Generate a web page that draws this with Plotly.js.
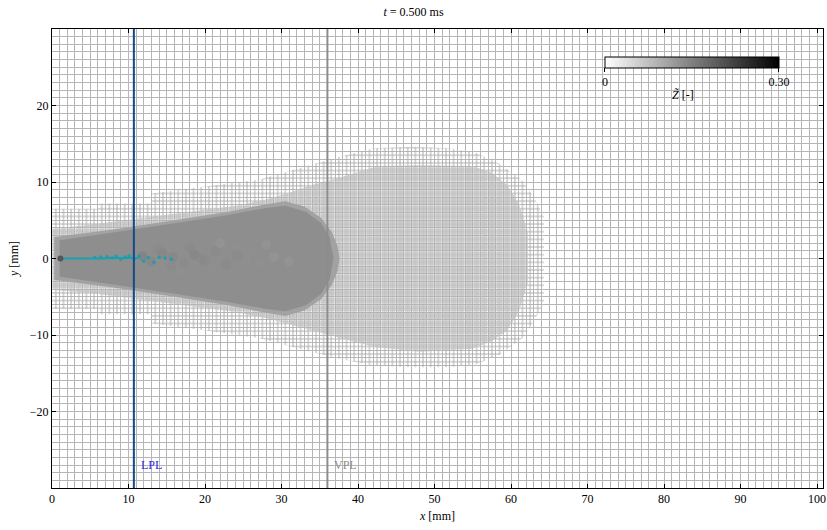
<!DOCTYPE html>
<html>
<head>
<meta charset="utf-8">
<script src="https://cdn.plot.ly/plotly-3.0.1.min.js"></script>
<style>html,body{margin:0;padding:0;background:#fff;}#chart{width:827px;height:530px;}</style>
</head>
<body>
<div id="chart"></div>
<script>
// ---- mesh refinement regions (mm) ----
const halo05UpperX = [0, 6, 6, 13, 13, 20, 27, 33, 38, 42, 47, 52, 55.5, 58.5, 61.5, 63, 64.3, 64.3];
const halo05UpperY = [6.5, 6.5, 7.2, 7.2, 8.5, 9.4, 10.3, 12.0, 13.4, 14.4, 14.6, 14.4, 13.8, 12.4, 10.2, 8.0, 5.5, 0];
const halo05LowerX = [64.3, 64.3, 63, 61.5, 58.5, 55.5, 52, 47, 42, 38, 33, 27, 20, 13, 13, 6, 6, 0];
const halo05LowerY = [0, -5.8, -8.2, -10.4, -12.6, -13.8, -14.2, -14.2, -14.0, -13.2, -12.0, -10.4, -9.4, -8.5, -7.3, -7.3, -6.6, -6.6];

const fine025UpperX = [0, 5, 11, 18, 24, 28, 31, 34, 37, 40, 42.5, 48, 55, 57.5, 59.5, 61, 62.2, 62.2];
const fine025UpperY = [3.9, 4.4, 5.2, 6.1, 6.9, 7.7, 8.6, 9.6, 10.4, 11.3, 12.1, 12.2, 12.1, 11.2, 9.6, 7.2, 3.5, 0];
const fine025LowerX = [62.2, 62.2, 61, 59.5, 57.5, 55, 48, 42.5, 40, 37, 34, 31, 28, 24, 18, 11, 5, 0];
const fine025LowerY = [0, -3.2, -7.0, -9.4, -10.8, -11.8, -12.2, -11.6, -11.0, -10.2, -9.4, -8.6, -7.8, -7.0, -6.2, -5.3, -4.5, -4.1];

const bandUpperX = [0.3, 0.3, 8, 16, 23, 28, 30.5, 33, 35.2, 36.6, 37.3, 37.6];
const bandUpperY = [0, 2.8, 3.8, 5.0, 6.1, 7.1, 7.5, 6.8, 5.3, 3.4, 1.7, 0];
const bandLowerX = [37.6, 37.3, 36.6, 35.2, 33, 30.5, 28, 23, 16, 8, 0.3, 0.3];
const bandLowerY = [0, -1.7, -3.4, -5.3, -6.8, -7.5, -7.1, -6.1, -5.0, -3.8, -2.8, 0];

const coreUpperX = [1, 1, 8, 16, 23, 28, 30.5, 33.2, 35.2, 36.3, 36.8];
const coreUpperY = [0, 2.4, 3.4, 4.6, 5.7, 6.6, 6.9, 6.1, 4.6, 2.7, 0];
const coreLowerX = [36.8, 36.3, 35.2, 33.2, 30.5, 28, 23, 16, 8, 1, 1];
const coreLowerY = [0, -2.7, -4.6, -6.1, -6.9, -6.6, -5.7, -4.6, -3.4, -2.4, 0];

// ---- liquid spray parcels ----
const sprayLineX = [1.2, 3.0, 5.0, 6.5, 7.5, 8.5, 9.5, 10.5, 11.2];
const sprayLineY = [0, -0.02, -0.03, 0.0, 0.05, 0.08, 0.08, 0.1, 0.08];
const dropX = [5.6, 6.4, 7.2, 7.9, 8.4, 9.0, 9.6, 10.1, 10.8, 11.4, 12.0, 12.6, 13.3, 14.0, 14.8, 15.6];
const dropY = [0.12, 0.18, 0.22, 0.05, 0.28, -0.1, 0.2, 0.32, -0.05, 0.25, -0.35, 0.1, -0.5, 0.15, 0.05, -0.1];
const nozzleX = [1.1];
const nozzleY = [0];

// ---- mixture fraction cloud ----
const zX = [11.8, 13.0, 14.4, 15.8, 17.2, 18.6, 20.0, 21.4, 22.8, 24.2, 25.6, 13.8, 18.0, 21.0, 24.0, 27.0, 15.6, 19.6, 26.2, 29.0, 28.0, 31.0, 22.0, 16.8];
const zY = [0.3, -0.4, 0.7, 0.2, -0.6, 0.5, -0.3, 0.9, -0.8, 0.4, -0.2, 1.2, 1.4, -1.3, 1.6, -0.6, -1.0, 0.0, 1.0, 0.2, 1.8, -0.4, 2.0, -1.6];
const zVal = [0.16, 0.15, 0.15, 0.15, 0.14, 0.15, 0.14, 0.14, 0.14, 0.14, 0.13, 0.14, 0.14, 0.13, 0.13, 0.13, 0.14, 0.14, 0.13, 0.12, 0.12, 0.12, 0.12, 0.13];

// ---- measurement planes ----
const planeX = [10.7, 36.0];
const planeNames = ['LPL', 'VPL'];
const planeLineColors = ['#124a86', '#8c8c8c'];
const planeTextColors = ['#2a2ae6', '#8c8c8c'];

const xTicks = [0, 10, 20, 30, 40, 50, 60, 70, 80, 90, 100];
const yTicks = [-20, -10, 0, 10, 20];

const PX_PER_MM = 7.65;
const FONT = '"Liberation Serif", "DejaVu Serif", serif';

function poly(ux, uy, lx, ly) { return {x: ux.concat(lx), y: uy.concat(ly)}; }

const h05 = poly(halo05UpperX, halo05UpperY, halo05LowerX, halo05LowerY);
const f025 = poly(fine025UpperX, fine025UpperY, fine025LowerX, fine025LowerY);
const band = poly(bandUpperX, bandUpperY, bandLowerX, bandLowerY);
const core = poly(coreUpperX, coreUpperY, coreLowerX, coreLowerY);

const traces = [
  {x: h05.x, y: h05.y, type: 'scatter', mode: 'none', fill: 'toself', hoverinfo: 'skip',
   fillpattern: {shape: '+', size: PX_PER_MM, solidity: 0.245, fgcolor: '#adadad'}},
  {x: f025.x, y: f025.y, type: 'scatter', mode: 'none', fill: 'toself', hoverinfo: 'skip',
   fillpattern: {shape: '+', size: PX_PER_MM / 2, solidity: 0.454, fgcolor: '#b8b8b8'}},
  {x: band.x, y: band.y, type: 'scatter', mode: 'none', fill: 'toself', fillcolor: '#a2a2a2', hoverinfo: 'skip'},
  {x: core.x, y: core.y, type: 'scatter', mode: 'none', fill: 'toself', fillcolor: '#8e8e8e', hoverinfo: 'skip'},
  {x: zX, y: zY, type: 'scatter', mode: 'markers', hoverinfo: 'skip',
   marker: {size: 10, color: zVal, cmin: 0, cmax: 0.3, opacity: 0.45,
     colorscale: [[0, '#ffffff'], [1, '#000000']], line: {width: 0},
     showscale: true,
     colorbar: {orientation: 'h', xref: 'paper', yref: 'paper', x: 0.83, xanchor: 'center', y: 0.94, yanchor: 'top',
       lenmode: 'pixels', len: 174, thickness: 11, xpad: 0, ypad: 0,
       outlinewidth: 1, outlinecolor: '#000',
       tickvals: [0, 0.3], ticktext: ['0', '0.30'], ticks: 'outside', ticklen: 4, tickcolor: '#000',
       tickfont: {family: FONT, size: 12, color: '#000'},
       title: {text: ''}}}},
  {x: sprayLineX, y: sprayLineY, type: 'scatter', mode: 'lines', hoverinfo: 'skip',
   line: {color: '#1c9fb0', width: 2}},
  {x: dropX, y: dropY, type: 'scatter', mode: 'markers', hoverinfo: 'skip',
   marker: {size: 3.5, color: '#1c9fb0'}},
  {x: nozzleX, y: nozzleY, type: 'scatter', mode: 'markers', hoverinfo: 'skip',
   marker: {size: 6, color: '#555555'}}
];

const shapes = planeX.map((px, i) => ({
  type: 'line', xref: 'x', yref: 'paper', x0: px, x1: px, y0: 0, y1: 1,
  line: {color: planeLineColors[i], width: 2}
}));
const annotations = planeX.map((px, i) => ({
  x: px, y: -27.0, xref: 'x', yref: 'y', text: planeNames[i], showarrow: false,
  xanchor: 'left', xshift: 5, font: {family: FONT, size: 12, color: planeTextColors[i]}
}));
annotations.push({
  x: 0.818, y: 0.856, xref: 'paper', yref: 'paper', text: '<i>Z̃</i> [-]', showarrow: false,
  xanchor: 'center', yanchor: 'middle', font: {family: FONT, size: 12, color: '#000'}
});

const plotW = 827 - 52 - 4;
const layout = {
  width: 827, height: 530,
  margin: {l: 52, r: 4, t: 29, b: 42},
  paper_bgcolor: '#fff', plot_bgcolor: '#fff',
  showlegend: false,
  font: {family: FONT, size: 12, color: '#000'},
  title: {text: '<i>t</i> = 0.500 ms', x: 0.5, xanchor: 'center', y: 0.977, yanchor: 'middle', yref: 'container',
    font: {family: FONT, size: 12, color: '#000'}},
  xaxis: {range: [0, plotW / PX_PER_MM], tickvals: xTicks, ticks: 'inside', ticklen: 4, tickcolor: '#000',
    showline: true, linecolor: '#000', linewidth: 1, mirror: 'ticks', zeroline: false,
    showgrid: true, gridcolor: '#b6b6b6', gridwidth: 1,
    minor: {dtick: 1, tick0: 0, showgrid: true, gridcolor: '#b6b6b6', gridwidth: 1},
    title: {text: '<i>x</i> [mm]', standoff: 6, font: {family: FONT, size: 12}},
    tickfont: {family: FONT, size: 12}, fixedrange: true},
  yaxis: {range: [-30, 30], tickvals: yTicks, ticks: 'inside', ticklen: 4, tickcolor: '#000',
    showline: true, linecolor: '#000', linewidth: 1, mirror: 'ticks', zeroline: false,
    showgrid: true, gridcolor: '#b6b6b6', gridwidth: 1,
    minor: {dtick: 1, tick0: 0, showgrid: true, gridcolor: '#b6b6b6', gridwidth: 1},
    title: {text: '<i>y</i> [mm]', standoff: 8, font: {family: FONT, size: 12}},
    tickfont: {family: FONT, size: 12}, fixedrange: true},
  shapes: shapes,
  annotations: annotations
};

Plotly.newPlot('chart', traces, layout, {displayModeBar: false, staticPlot: true});
</script>
</body>
</html>
